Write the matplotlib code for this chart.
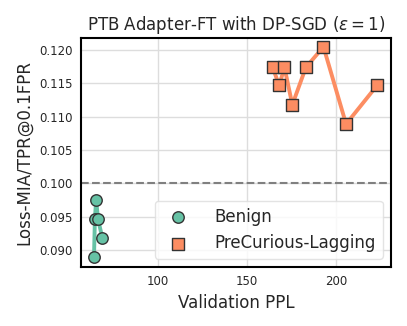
import numpy as np
import matplotlib
matplotlib.use("Agg")
import matplotlib.pyplot as plt

# Benign runs
benign_ppl = [64.0, 64.5, 65.2, 66.3, 68.7]
benign_mia = [0.0889, 0.0946, 0.0975, 0.0946, 0.0918]

# PreCurious-Lagging runs
pre_ppl = [164.4, 168.0, 171.0, 175.4, 183.0, 192.9, 205.6, 223.0]
pre_mia = [0.1174, 0.1147, 0.1174, 0.1118, 0.1174, 0.1205, 0.1089, 0.1147]

baseline = 0.100

GREEN = '#66c2a5'
ORANGE = '#fc8d62'
TXT = '#262626'

fig = plt.figure(figsize=(4.07, 3.26), dpi=100)
ax = fig.add_axes([0.199, 0.181, 0.762, 0.702])

ax.plot(benign_ppl, benign_mia, color=GREEN, lw=2.8, zorder=2)
ax.scatter(benign_ppl, benign_mia, s=68, marker='o', color=GREEN,
           edgecolor='#333333', linewidth=1.0, zorder=3, label='Benign')
ax.plot(pre_ppl, pre_mia, color=ORANGE, lw=2.8, zorder=2)
ax.scatter(pre_ppl, pre_mia, s=68, marker='s', color=ORANGE,
           edgecolor='#333333', linewidth=1.0, zorder=3, label='PreCurious-Lagging')

ax.axhline(baseline, color='gray', ls='--', lw=1.5, zorder=1)

ax.set_xlim(56.7, 230.9)
ax.set_ylim(0.08745, 0.1218)
ax.set_xticks([100, 150, 200])
ax.set_yticks([0.090, 0.095, 0.100, 0.105, 0.110, 0.115, 0.120])
ax.yaxis.set_major_formatter(matplotlib.ticker.FormatStrFormatter('%.3f'))
ax.tick_params(labelsize=8.5, length=0, pad=6, labelcolor=TXT)
ax.grid(True, color='#dddddd', lw=1.0)
ax.set_axisbelow(True)
for s in ax.spines.values():
    s.set_color('black')
    s.set_linewidth(1.5)

ax.set_xlabel('Validation PPL', fontsize=12, color=TXT)
ax.set_ylabel('Loss-MIA/TPR@0.1FPR', fontsize=12, color=TXT)
ax.set_title(r'PTB Adapter-FT with DP-SGD ($\epsilon = 1$)', fontsize=12, color=TXT)

leg = ax.legend(loc='lower right', fontsize=12, handletextpad=1.2,
                borderpad=0.4, frameon=True)
leg.get_frame().set_edgecolor('#dddddd')
for t in leg.get_texts():
    t.set_color(TXT)

fig.savefig('out.png', dpi=100)
